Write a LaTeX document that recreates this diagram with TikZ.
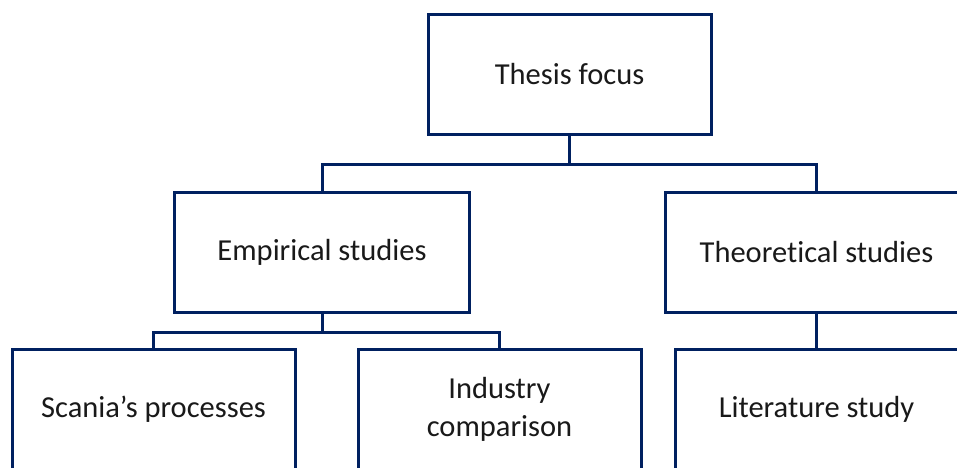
\documentclass[tikz,border=0pt]{standalone}
\usepackage{fontspec}
\setmainfont[Ligatures=NoCommon]{Carlito}
\definecolor{navy}{RGB}{0,32,96}
\begin{document}
\begin{tikzpicture}[x=1pt,y=-1pt,
  box/.style={draw=navy, line width=3pt, fill=white, minimum width=283pt,
    minimum height=120pt, inner sep=0pt, align=center, text=black!90,
    font=\fontsize{30.5}{38}\selectfont},
  link/.style={draw=navy, line width=3pt}]
\useasboundingbox (0,0) rectangle (957,467);
\begin{scope}
\clip (0,0) rectangle (957,467);
% top level
\node[box] (thesis) at (569.5,74) {Thesis focus};
% second level
\node[box, minimum width=295pt] (emp) at (322,252.5) {Empirical studies};
\node[box, minimum width=302pt] (theo) at (816.5,252.5) {Theoretical studies};
% third level
\node[box] (scania) at (153.5,409) {Scania’s processes};
\node[box] (industry) at (499.5,409) {Industry\\comparison};
\node[box] (lit) at (816.5,409) {Literature study};
% connectors
\path (thesis.south) ++(0,29) coordinate (j1);
\path (emp.south) ++(0,18) coordinate (j2);
\draw[link] (thesis.south) -- (j1);
\draw[link] (emp.north) |- (j1) -| (theo.north);
\draw[link] (emp.south) -- (j2);
\draw[link] (scania.north) |- (j2) -| (industry.north);
\draw[link] (theo.south) -- (lit.north);
\end{scope}
\end{tikzpicture}
\end{document}
